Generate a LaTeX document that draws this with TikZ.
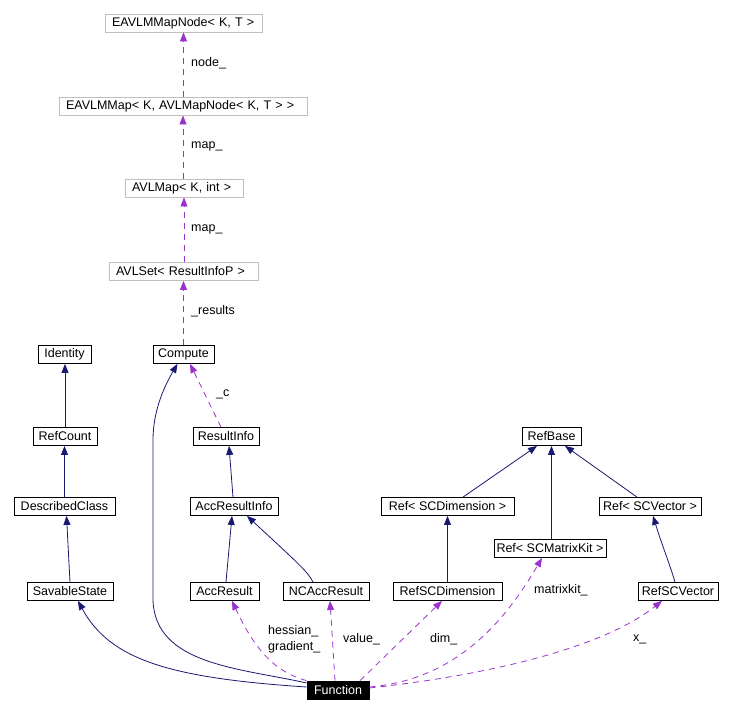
\documentclass[tikz,border=0pt]{standalone}
\usepackage{fontspec}
\setmainfont{Liberation Sans}
\usetikzlibrary{arrows.meta}
\definecolor{navyedge}{HTML}{191970}
\definecolor{useedge}{HTML}{9A32CD}
\definecolor{graybox}{HTML}{BFBFBF}
\tikzset{
 cls/.style={draw=black, line width=0.8pt, fill=white, font=\fontsize{12.5}{14}\selectfont, inner xsep=2pt, inner ysep=0pt, minimum height=18pt},
 tmpl/.style={cls, draw=graybox, align=left, inner xsep=7pt},
 focus/.style={cls, fill=black, text=white},
 inh/.style={draw=navyedge, line width=0.8pt, -{Triangle[length=9pt,width=7pt]}},
 use/.style={draw=useedge, line width=0.8pt, dash pattern=on 6pt off 5pt, -{Triangle[length=9pt,width=7pt,fill=useedge]}},
 lbl/.style={font=\fontsize{12.5}{16}\selectfont, anchor=west, inner sep=0pt, align=left},
}
\begin{document}
\begin{tikzpicture}[x=1pt,y=-1pt]
\useasboundingbox (0,0) rectangle (732,713);
% template boxes
\node[tmpl, text width=143pt] (mapnode) at (183.5,23) {EAVLMMapNode< K, T >};
\node[tmpl, text width=234pt] (eavlmap) at (183,106) {EAVLMMap< K, AVLMapNode< K, T > >};
\node[tmpl, text width=104pt] (avlmap) at (184,188) {AVLMap< K, int >};
\node[tmpl, text width=135pt] (avlset) at (183.5,271.5) {AVLSet< ResultInfoP >};
% classes
\node[cls, minimum width=61pt] (compute) at (183.5,354.5) {Compute};
\node[cls, minimum width=53pt] (identity) at (64.5,354.5) {Identity};
\node[cls, minimum width=64pt] (refcount) at (65,436.5) {RefCount};
\node[cls, minimum width=66pt] (resultinfo) at (226,436.5) {ResultInfo};
\node[cls, minimum width=101pt] (described) at (64.5,506.5) {DescribedClass};
\node[cls, minimum width=88pt] (accri) at (234,506.5) {AccResultInfo};
\node[cls, minimum width=86pt] (savable) at (70,591.5) {SavableState};
\node[cls, minimum width=69pt] (accresult) at (224.5,591.5) {AccResult};
\node[cls, minimum width=86pt] (ncacc) at (326,591.5) {NCAccResult};
\node[focus, minimum width=62pt] (function) at (338,690) {Function};
\node[cls, minimum width=59pt] (refbase) at (551.5,436.5) {RefBase};
\node[cls, minimum width=133pt] (refscdimT) at (447.5,506.5) {Ref< SCDimension >};
\node[cls, minimum width=102pt] (refscvecT) at (650,506.5) {Ref< SCVector >};
\node[cls, minimum width=112pt] (matrixkit) at (550,548.5) {Ref< SCMatrixKit >};
\node[cls, minimum width=109pt] (refscdim) at (447.5,591.5) {RefSCDimension};
\node[cls, minimum width=80pt] (refscvec) at (678,591.5) {RefSCVector};
% inheritance
\draw[inh] (refcount.north) -- (refcount.north |- identity.south);
\draw[inh] (described.north) -- (described.north |- refcount.south);
\draw[inh] (savable.north) -- ([xshift=2pt]described.south);
\draw[inh] ([yshift=3pt]function.west) .. controls (170,678) and (110,660) .. ([xshift=8pt]savable.south);
\draw[inh] ([yshift=7pt]function.west) .. controls (240,668) and (155,665) .. (153,600) -- (153,440) .. controls (153,410) and (165,385) .. ([xshift=-6pt]compute.south);
\draw[inh] ([xshift=-1pt]accri.north) -- ([xshift=3pt]resultinfo.south);
\draw[inh] ([xshift=1.5pt]accresult.north) -- ([xshift=-2pt]accri.south);
\draw[inh] ([xshift=-13pt]ncacc.north) .. controls (308,572) and (300,565) .. ([xshift=13pt]accri.south);
\draw[inh] ([xshift=15.5pt]refscdimT.north) -- ([xshift=-14.5pt]refbase.south);
\draw[inh] (refbase.south |- matrixkit.north) -- (refbase.south);
\draw[inh] ([xshift=-13pt]refscvecT.north) -- ([xshift=13.5pt]refbase.south);
\draw[inh] (refscdim.north) -- (refscdimT.south);
\draw[inh] ([xshift=-3pt]refscvec.north) .. controls (670,565) and (662,545) .. ([xshift=3pt]refscvecT.south);
% usage
\draw[use] (eavlmap.north -| mapnode.south) -- (mapnode.south);
\draw[use] (avlmap.north -| eavlmap.south) -- (eavlmap.south);
\draw[use] (avlset.north -| avlmap.south) -- (avlmap.south);
\draw[use] (compute.north) -- (compute.north |- avlset.south);
\draw[use] ([xshift=-5pt]resultinfo.north) -- ([xshift=6.5pt]compute.south);
\draw[use] (function.north west) .. controls (275,672) and (255,650) .. ([xshift=7.5pt]accresult.south);
\draw[use] ([xshift=-3pt]function.north) -- ([xshift=4pt]ncacc.south);
\draw[use] ([xshift=22pt]function.north) -- ([xshift=-5.5pt]refscdim.south);
\draw[use] ([yshift=3pt]function.east) .. controls (450,680) and (500,630) .. ([xshift=-8pt]matrixkit.south);
\draw[use] ([yshift=2pt]function.east) .. controls (480,676) and (600,650) .. ([xshift=-16pt]refscvec.south);
% labels
\node[lbl] (l1) at (191,63) {node\_};
\node[lbl] (l2) at (191,146) {map\_};
\node[lbl] (l3) at (191,229) {map\_};
\node[lbl] (l4) at (191,311) {\_results};
\node[lbl] (l5) at (216,394) {\_c};
\node[lbl] (l6) at (268,639) {hessian\_\\gradient\_};
\node[lbl] (l7) at (343,639) {value\_};
\node[lbl] (l8) at (430,639) {dim\_};
\node[lbl] (l9) at (534,590) {matrixkit\_};
\node[lbl] (l10) at (633,639) {x\_};
\end{tikzpicture}
\end{document}
